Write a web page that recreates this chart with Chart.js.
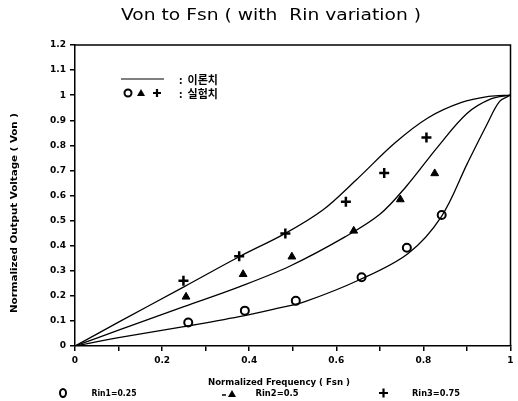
<!DOCTYPE html>
<html>
<head>
<meta charset="utf-8">
<script src="https://cdn.jsdelivr.net/npm/chart.js@4"></script>
<style>
  html, body { margin: 0; padding: 0; background: #fff; }
  #wrap { width: 518px; height: 401px; }
</style>
</head>
<body>
<div id="wrap"><canvas id="c" width="518" height="401"></canvas></div>
<script>
// theoretical curves (이론치)
const rin1CurveX = [0, 0.1, 0.25, 0.377, 0.464, 0.528, 0.652, 0.765, 0.841, 0.901, 0.945, 0.975, 1];
const rin1CurveY = [0, 0.033, 0.077, 0.117, 0.15, 0.177, 0.263, 0.369, 0.515, 0.728, 0.88, 0.975, 1];
const rin2CurveX = [0, 0.1, 0.25, 0.377, 0.494, 0.62, 0.70, 0.76, 0.833, 0.90, 0.955, 1];
const rin2CurveY = [0, 0.063, 0.157, 0.236, 0.319, 0.435, 0.525, 0.635, 0.794, 0.927, 0.985, 1];
const rin3CurveX = [0, 0.1, 0.25, 0.377, 0.483, 0.569, 0.645, 0.735, 0.811, 0.886, 0.95, 1];
const rin3CurveY = [0, 0.095, 0.236, 0.356, 0.449, 0.542, 0.661, 0.81, 0.91, 0.97, 0.995, 1.0];

// measured points (실험치)
const rin1MeasX = [0.26, 0.39, 0.507, 0.658, 0.762, 0.842];
const rin1MeasY = [0.094, 0.141, 0.18, 0.274, 0.392, 0.522];
const rin2MeasX = [0.255, 0.386, 0.498, 0.64, 0.747, 0.826];
const rin2MeasY = [0.196, 0.286, 0.356, 0.459, 0.584, 0.688];
const rin3MeasX = [0.249, 0.377, 0.483, 0.622, 0.71, 0.807];
const rin3MeasY = [0.26, 0.358, 0.449, 0.575, 0.69, 0.831];

const xTickLabels = ['0', '', '0.2', '', '0.4', '', '0.6', '', '0.8', '', '1'];
const yTickLabels = ['0', '0.1', '0.2', '0.3', '0.4', '0.5', '0.6', '0.7', '0.8', '0.9', '1', '1.1', '1.2'];
const seriesNames = ['Rin1=0.25', 'Rin2=0.5', 'Rin3=0.75'];

function pts(xs, ys) { return xs.map((x, i) => ({x: x, y: ys[i]})); }

function curve(xs, ys) {
  return {
    data: pts(xs, ys), showLine: true, borderColor: '#000', borderWidth: 1.3,
    pointRadius: 0, tension: 0.35, fill: false
  };
}

function fitText(ctx, txt, cx, cy, w) {
  const m = ctx.measureText(txt).width;
  ctx.save();
  ctx.translate(cx, cy);
  ctx.scale(w / m, 1);
  ctx.textAlign = 'center';
  ctx.fillText(txt, 0, 0);
  ctx.restore();
}

const overlay = {
  id: 'overlay',
  afterDraw(chart) {
    const ctx = chart.ctx;
    const a = chart.chartArea;
    ctx.save();
    ctx.fillStyle = '#000';
    ctx.strokeStyle = '#000';
    ctx.textBaseline = 'middle';

    // box top/right
    ctx.lineWidth = 1.5;
    ctx.beginPath();
    ctx.moveTo(a.left, a.top); ctx.lineTo(a.right, a.top); ctx.lineTo(a.right, a.bottom);
    ctx.stroke();

    // title
    ctx.font = '15px "DejaVu Sans"';
    fitText(ctx, 'Von to Fsn ( with  Rin variation )', 271, 16, 300);

    // y title
    ctx.font = 'bold 8px "DejaVu Sans"';
    ctx.save();
    ctx.translate(15, 213);
    ctx.rotate(-Math.PI / 2);
    fitText(ctx, 'Normalized Output Voltage ( Von )', 0, 0, 200);
    ctx.restore();

    // x title
    fitText(ctx, 'Normalized Frequency ( Fsn )', 279, 383, 142);

    // inner legend
    ctx.lineWidth = 1.2;
    ctx.beginPath(); ctx.moveTo(121, 79); ctx.lineTo(164, 79); ctx.stroke();
    ctx.font = 'bold 11px "Noto Sans CJK KR"';
    ctx.textAlign = 'left';
    ctx.fillText(':  이론치', 179, 80);
    ctx.fillText(':  실험치', 179, 94);
    ctx.lineWidth = 2;
    ctx.beginPath(); ctx.arc(128, 93, 3.5, 0, Math.PI * 2); ctx.stroke();
    ctx.beginPath(); ctx.moveTo(141, 89); ctx.lineTo(145, 96); ctx.lineTo(137, 96); ctx.closePath(); ctx.fill();
    ctx.lineWidth = 2.2;
    ctx.beginPath(); ctx.moveTo(153, 93); ctx.lineTo(161, 93); ctx.moveTo(157, 89); ctx.lineTo(157, 97); ctx.stroke();

    // bottom legend
    ctx.font = 'bold 8px "DejaVu Sans"';
    fitText(ctx, seriesNames[0], 114, 394, 45);
    fitText(ctx, seriesNames[1], 277, 394, 43);
    fitText(ctx, seriesNames[2], 436, 394, 48);
    ctx.lineWidth = 2;
    ctx.beginPath(); ctx.ellipse(63, 393, 3, 4, 0, 0, Math.PI * 2); ctx.stroke();
    ctx.lineWidth = 1.5;
    ctx.beginPath(); ctx.moveTo(222, 395); ctx.lineTo(226, 395); ctx.stroke();
    ctx.beginPath(); ctx.moveTo(232, 390); ctx.lineTo(236, 397); ctx.lineTo(228, 397); ctx.closePath(); ctx.fill();
    ctx.lineWidth = 2.2;
    ctx.beginPath(); ctx.moveTo(379, 393); ctx.lineTo(388, 393); ctx.moveTo(383.5, 388.5); ctx.lineTo(383.5, 397.5); ctx.stroke();
    ctx.restore();
  }
};

new Chart(document.getElementById('c'), {
  type: 'scatter',
  data: {
    datasets: [
      curve(rin1CurveX, rin1CurveY),
      curve(rin2CurveX, rin2CurveY),
      curve(rin3CurveX, rin3CurveY),
      { data: pts(rin1MeasX, rin1MeasY), pointStyle: 'circle', pointRadius: 4,
        pointBackgroundColor: '#fff', pointBorderColor: '#000', pointBorderWidth: 2 },
      { data: pts(rin2MeasX, rin2MeasY), pointStyle: 'triangle', pointRadius: 4.5,
        pointBackgroundColor: '#000', pointBorderColor: '#000', pointBorderWidth: 1 },
      { data: pts(rin3MeasX, rin3MeasY), pointStyle: 'cross', pointRadius: 5,
        pointBackgroundColor: '#000', pointBorderColor: '#000', pointBorderWidth: 2.5 }
    ]
  },
  options: {
    responsive: false,
    animation: false,
    events: [],
    layout: { padding: { top: 45, right: 1, left: 0, bottom: 0 } },
    plugins: { legend: { display: false }, tooltip: { enabled: false }, title: { display: false } },
    scales: {
      x: {
        type: 'linear', min: 0, max: 1,
        afterFit(s) { s.height = 55; },
        afterBuildTicks(s) { s.ticks = xTickLabels.map((_, i) => ({value: i / 10})); },
        ticks: {
          autoSkip: false, maxRotation: 0, color: '#000', padding: 4,
          font: { family: 'DejaVu Sans', size: 9, weight: 'bold' },
          callback: (v, i) => xTickLabels[i]
        },
        grid: { drawOnChartArea: false, drawTicks: true, tickLength: 5, color: '#000', lineWidth: 1.5 },
        border: { display: true, color: '#000', width: 1.5 }
      },
      y: {
        type: 'linear', min: 0, max: 1.2,
        afterFit(s) { s.width = 75; },
        afterBuildTicks(s) { s.ticks = yTickLabels.map((_, i) => ({value: i / 10})); },
        ticks: {
          autoSkip: false, color: '#000', padding: 4,
          font: { family: 'DejaVu Sans', size: 9, weight: 'bold' },
          callback: (v, i) => yTickLabels[i]
        },
        grid: { drawOnChartArea: false, drawTicks: true, tickLength: 5, color: '#000', lineWidth: 1.5 },
        border: { display: true, color: '#000', width: 1.5 }
      }
    }
  },
  plugins: [overlay]
});
</script>
</body>
</html>
